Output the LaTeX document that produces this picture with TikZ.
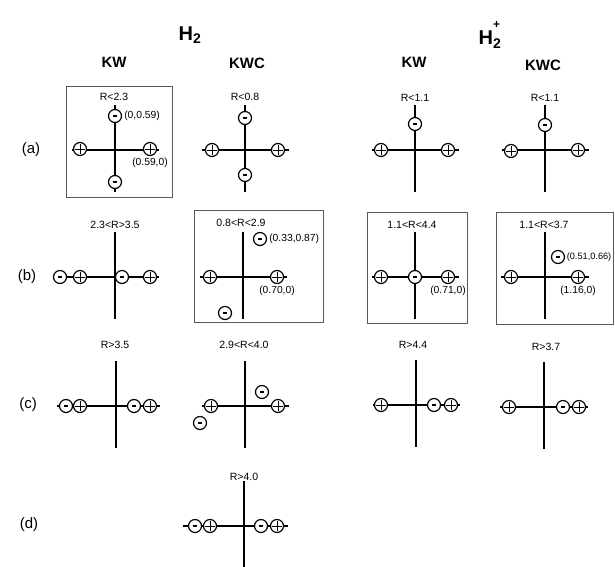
\documentclass[tikz,border=0pt]{standalone}
\usepackage{fontspec}
\setmainfont{Liberation Sans}
\usetikzlibrary{positioning}

\tikzset{
  axisline/.style={line width=1.6pt},
  panelbox/.style={draw=black!65, line width=0.7pt},
  pcharge/.style={circle, draw, line width=1.2pt, fill=white, inner sep=0pt, minimum size=13pt,
    path picture={
      \draw[line width=1pt] ([xshift=-4.8pt]path picture bounding box.center) -- ([xshift=4.8pt]path picture bounding box.center);
      \draw[line width=1pt] ([yshift=-4.8pt]path picture bounding box.center) -- ([yshift=4.8pt]path picture bounding box.center);}},
  ncharge/.style={circle, draw, line width=1.2pt, fill=white, inner sep=0pt, minimum size=13pt,
    path picture={
      \draw[line width=1.1pt] ([xshift=-2pt]path picture bounding box.center) -- ([xshift=2pt]path picture bounding box.center);}},
  rangelbl/.style={font=\fontsize{10.5}{12}\selectfont, inner sep=1pt},
  coordlbl/.style={font=\fontsize{10.3}{12}\selectfont, inner sep=1pt},
  rowlbl/.style={font=\fontsize{15}{17}\selectfont},
  methhead/.style={font=\bfseries\fontsize{15}{17}\selectfont},
  molhead/.style={font=\bfseries\fontsize{20}{22}\selectfont}
}

\begin{document}
\begin{tikzpicture}[x=1pt,y=-1pt]
\useasboundingbox (0,0) rectangle (615,566);

% ---- Column headers ----
\node[molhead] (molA) at (190,35) {H\textsubscript{2}};
\node[molhead] (molB) at (490,35) {H\rlap{\raisebox{0.8em}{\fontsize{12}{13}\selectfont +}}\textsubscript{2}};
\node[methhead] (kwA)  at (114,62) {KW};
\node[methhead] (kwcA) at (247,63) {KWC};
\node[methhead] (kwB)  at (414,62) {KW};
\node[methhead] (kwcB) at (543,65) {KWC};

% ---- Row labels ----
\node[rowlbl] (rowa) at (31,150) {(a)};
\node[rowlbl] (rowb) at (27,277) {(b)};
\node[rowlbl] (rowc) at (28,405) {(c)};
\node[rowlbl] (rowd) at (29,525) {(d)};

% ---- Framed panels ----
\draw[panelbox] (66,86) rectangle (172,197);
\draw[panelbox] (194,210) rectangle (323,322);
\draw[panelbox] (367,212) rectangle (467,323);
\draw[panelbox] (496,212) rectangle (613,324);

% ---- Axes of every panel ----
\foreach \n/\cx/\cy/\l in {a1/115/150/43, a2/245/150/43, a3/415/150/43, a4/545/150/43,
                           b1/115/277/62, b2/243/277/43, b3/415/277/43, b4/545/277/44,
                           c1/116/406/59, c2/245/406/43, c3/416/405/43, c4/544/407/44,
                           d/244/526/61} {
  \coordinate (\n-w) at (\cx-\l,\cy);
  \coordinate (\n-e) at (\cx+44,\cy);
  \coordinate (\n-n) at (\cx,\cy-45);
  \coordinate (\n-s) at (\cx,\cy+42);
  \draw[axisline] (\n-w) -- (\n-e);
  \draw[axisline] (\n-n) -- (\n-s);
}

% ---- (a) ----
\node[rangelbl] (ra1) at (114,97) {R<2.3};
\node[pcharge] (a1p1) at (80,149) {};
\node[pcharge] (a1p2) at (150,149) {};
\node[ncharge] (a1m1) at (115,116) {};
\node[ncharge] (a1m2) at (115,182) {};
\node[coordlbl, right=1pt of a1m1] (a1c1) {(0,0.59)};
\node[coordlbl, below=1pt of a1p2] (a1c2) {(0.59,0)};

\node[rangelbl] (ra2) at (245,97) {R<0.8};
\node[pcharge] (a2p1) at (212,150) {};
\node[pcharge] (a2p2) at (278,150) {};
\node[ncharge] (a2m1) at (245,118) {};
\node[ncharge] (a2m2) at (245,175) {};

\node[rangelbl] (ra3) at (415,98) {R<1.1};
\node[pcharge] (a3p1) at (381,150) {};
\node[pcharge] (a3p2) at (448,150) {};
\node[ncharge] (a3m1) at (415,124) {};

\node[rangelbl] (ra4) at (545,98) {R<1.1};
\node[pcharge] (a4p1) at (511,151) {};
\node[pcharge] (a4p2) at (578,150) {};
\node[ncharge] (a4m1) at (545,125) {};

% ---- (b) ----
\node[rangelbl] (rb1) at (115,225) {2.3<R>3.5};
\node[ncharge] (b1m1) at (60,277) {};
\node[pcharge] (b1p1) at (80,277) {};
\node[ncharge] (b1m2) at (122,277) {};
\node[pcharge] (b1p2) at (150,277) {};

\node[rangelbl] (rb2) at (241,223) {0.8<R<2.9};
\node[pcharge] (b2p1) at (210,277) {};
\node[pcharge] (b2p2) at (277,277) {};
\node[ncharge] (b2m1) at (260,239) {};
\node[ncharge] (b2m2) at (225,313) {};
\node[coordlbl, right=1pt of b2m1] (b2c1) {(0.33,0.87)};
\node[coordlbl, below=1pt of b2p2] (b2c2) {(0.70,0)};

\node[rangelbl] (rb3) at (412,225) {1.1<R<4.4};
\node[pcharge] (b3p1) at (381,277) {};
\node[ncharge] (b3m1) at (415,277) {};
\node[pcharge] (b3p2) at (448,277) {};
\node[coordlbl, below=1pt of b3p2] (b3c1) {(0.71,0)};

\node[rangelbl] (rb4) at (544,225) {1.1<R<3.7};
\node[pcharge] (b4p1) at (511,277) {};
\node[pcharge] (b4p2) at (578,277) {};
\node[ncharge] (b4m1) at (558,257) {};
\node[coordlbl, font=\fontsize{9.2}{11}\selectfont, right=0.5pt of b4m1] (b4c1) {(0.51,0.66)};
\node[coordlbl, below=1pt of b4p2] (b4c2) {(1.16,0)};

% ---- (c) ----
\node[rangelbl] (rc1) at (115,345) {R>3.5};
\node[ncharge] (c1m1) at (66,406) {};
\node[pcharge] (c1p1) at (80,406) {};
\node[ncharge] (c1m2) at (134,406) {};
\node[pcharge] (c1p2) at (150,406) {};

\node[rangelbl] (rc2) at (244,345) {2.9<R<4.0};
\node[pcharge] (c2p1) at (211,406) {};
\node[pcharge] (c2p2) at (278,406) {};
\node[ncharge] (c2m1) at (262,392) {};
\node[ncharge] (c2m2) at (200,423) {};

\node[rangelbl] (rc3) at (413,345) {R>4.4};
\node[pcharge] (c3p1) at (381,405) {};
\node[ncharge] (c3m1) at (434,405) {};
\node[pcharge] (c3p2) at (451,405) {};

\node[rangelbl] (rc4) at (546,347) {R>3.7};
\node[pcharge] (c4p1) at (509,407) {};
\node[ncharge] (c4m1) at (563,407) {};
\node[pcharge] (c4p2) at (579,407) {};

% ---- (d) ----
\node[rangelbl] (rd) at (244,477) {R>4.0};
\node[ncharge] (dm1) at (195,526) {};
\node[pcharge] (dp1) at (210,526) {};
\node[ncharge] (dm2) at (261,526) {};
\node[pcharge] (dp2) at (277,526) {};

\end{tikzpicture}
\end{document}
